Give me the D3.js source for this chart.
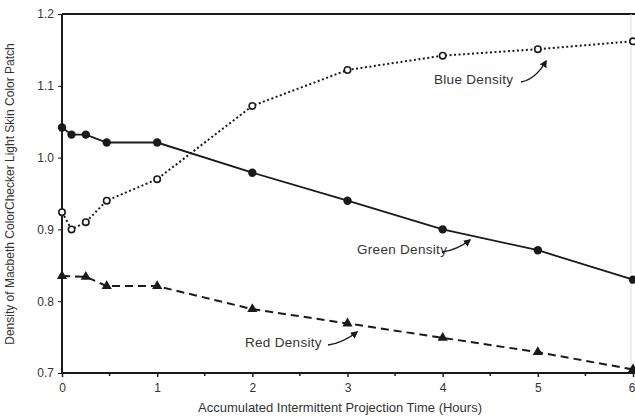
<!DOCTYPE html>
<html><head><meta charset="utf-8">
<script src="https://cdn.jsdelivr.net/npm/d3@7"></script>
<style>body{margin:0;background:#fff;} svg{display:block;font-family:"Liberation Sans",Arial,sans-serif;}</style>
</head><body><svg id="c" width="635" height="419"></svg>
<script>
const greenX = [0, 0.1, 0.25, 0.47, 1, 2, 3, 4, 5, 6];
const greenY = [1.042, 1.032, 1.032, 1.021, 1.021, 0.979, 0.94, 0.90, 0.871, 0.83];
const blueX = [0, 0.1, 0.25, 0.47, 1, 2, 3, 4, 5, 6];
const blueY = [0.924, 0.90, 0.91, 0.94, 0.97, 1.072, 1.122, 1.142, 1.151, 1.162];
const redX = [0, 0.25, 0.47, 1, 2, 3, 4, 5, 6];
const redY = [0.835, 0.834, 0.821, 0.821, 0.789, 0.769, 0.749, 0.729, 0.705];
const xTicks = [0, 1, 2, 3, 4, 5, 6];
const xMinor = [0.5, 1.5, 2.5, 3.5, 4.5, 5.5];
const yTicks = [0.7, 0.8, 0.9, 1.0, 1.1, 1.2];
const labels = ["Blue Density", "Green Density", "Red Density"];

const svg = d3.select("#c");
const x = d3.scaleLinear().domain([0, 6]).range([62, 633]);
const y = d3.scaleLinear().domain([0.7, 1.2]).range([373, 14]);
const ink = "#1a1a1a", txt = "#333";

// frame
svg.append("line").attr("x1", 62).attr("x2", 635).attr("y1", 14).attr("y2", 14).attr("stroke", ink).attr("stroke-width", 2);
svg.append("line").attr("x1", 631).attr("x2", 631).attr("y1", 14).attr("y2", 373).attr("stroke", "#ddd").attr("stroke-width", 1);

// axes
const xAxis = d3.axisBottom(x).tickValues(xTicks).tickSize(4).tickFormat(d3.format("d")).tickPadding(6);
const gx = svg.append("g").attr("transform", "translate(0,373)").call(xAxis);
gx.select(".domain").attr("stroke", ink).attr("stroke-width", 2).attr("d", "M62,0H635");
gx.selectAll(".tick line").attr("stroke", ink).attr("stroke-width", 1.5);
gx.selectAll(".tick text").attr("fill", txt).attr("font-size", 12);
gx.selectAll(".tick text").filter(d => d === 6).attr("text-anchor", "end").attr("dx", 2);
gx.selectAll(".minor").data(xMinor).enter().append("line").attr("class", "minor")
  .attr("x1", d => x(d)).attr("x2", d => x(d)).attr("y1", 0).attr("y2", 3).attr("stroke", ink).attr("stroke-width", 1.5);

const yAxis = d3.axisLeft(y).tickValues(yTicks).tickSize(4).tickFormat(d3.format(".1f")).tickPadding(4);
const gy = svg.append("g").attr("transform", "translate(62,0)").call(yAxis);
gy.select(".domain").attr("stroke", ink).attr("stroke-width", 2).attr("d", "M0,14V373");
gy.selectAll(".tick line").attr("stroke", ink).attr("stroke-width", 1);
gy.selectAll(".tick text").attr("fill", txt).attr("font-size", 12);

// axis titles
svg.append("text").attr("x", 340).attr("y", 412).attr("text-anchor", "middle").attr("fill", txt)
  .attr("font-size", 13).text("Accumulated Intermittent Projection Time (Hours)");
svg.append("text").attr("transform", "translate(14,194) rotate(-90)").attr("text-anchor", "middle").attr("fill", txt)
  .attr("font-size", 12).text("Density of Macbeth ColorChecker Light Skin Color Patch");

const line = d3.line().x(d => x(d[0])).y(d => y(d[1]));
const green = greenX.map((v, i) => [v, greenY[i]]);
const blue = blueX.map((v, i) => [v, blueY[i]]);
const red = redX.map((v, i) => [v, redY[i]]);

svg.append("path").datum(green).attr("d", line).attr("fill", "none").attr("stroke", ink).attr("stroke-width", 1.8);
svg.append("path").datum(blue).attr("d", line).attr("fill", "none").attr("stroke", ink).attr("stroke-width", 2).attr("stroke-dasharray", "2,2.5");
svg.append("path").datum(red).attr("d", line).attr("fill", "none").attr("stroke", ink).attr("stroke-width", 2).attr("stroke-dasharray", "8,5");

svg.selectAll(".gm").data(green).enter().append("circle").attr("cx", d => x(d[0])).attr("cy", d => y(d[1])).attr("r", 4.2).attr("fill", ink);
svg.selectAll(".bm").data(blue).enter().append("circle").attr("cx", d => x(d[0])).attr("cy", d => y(d[1])).attr("r", 3.2).attr("fill", "#fff").attr("stroke", ink).attr("stroke-width", 1.6);
const tri = d3.symbol().type(d3.symbolTriangle).size(45);
svg.selectAll(".rm").data(red).enter().append("path").attr("d", tri).attr("transform", d => `translate(${x(d[0])},${y(d[1])})`).attr("fill", ink);

// labels with arrows
svg.append("defs").append("marker").attr("id", "ah").attr("viewBox", "0 0 10 10").attr("refX", 8).attr("refY", 5)
  .attr("markerWidth", 5).attr("markerHeight", 5).attr("orient", "auto")
  .append("path").attr("d", "M0,0L10,5L0,10z").attr("fill", ink);
const lab = [
  {t: labels[0], tx: 434, ty: 84, p: "M521,82 Q536,79 546,61"},
  {t: labels[1], tx: 357, ty: 254, p: "M442,252 Q457,250 470,240"},
  {t: labels[2], tx: 245, ty: 347, p: "M328,345 Q343,343 357,332"}
];
lab.forEach(l => {
  svg.append("text").attr("x", l.tx).attr("y", l.ty).attr("fill", txt).attr("font-size", 13.5).attr("letter-spacing", 0.3).text(l.t);
  svg.append("path").attr("d", l.p).attr("fill", "none").attr("stroke", ink).attr("stroke-width", 1.5).attr("marker-end", "url(#ah)");
});
</script></body></html>
